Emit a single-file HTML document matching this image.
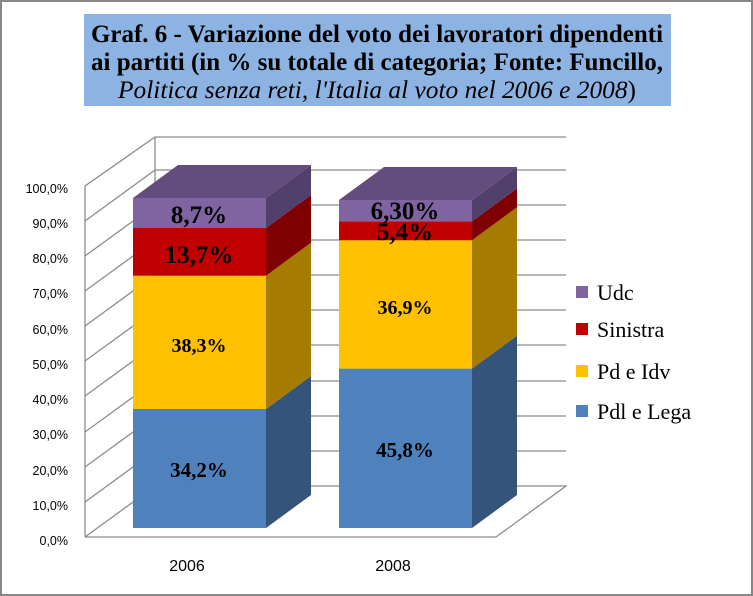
<!DOCTYPE html>
<html><head><style>body{margin:0;background:#fff}svg{display:block}</style></head><body>
<svg width="753" height="596" viewBox="0 0 753 596" xmlns="http://www.w3.org/2000/svg">
<rect x="1" y="1" width="751" height="594" fill="#fff" stroke="#878787" stroke-width="2"/>
<rect x="84" y="14" width="587" height="92" fill="#8DB3E2"/>
<g font-family="Liberation Serif, serif" font-size="25" text-anchor="middle" fill="#000">
<text x="377" y="42" font-weight="bold" textLength="572" lengthAdjust="spacingAndGlyphs">Graf. 6 - Variazione del voto dei lavoratori dipendenti</text>
<text x="377" y="70" font-weight="bold" textLength="572" lengthAdjust="spacingAndGlyphs">ai partiti (in %  su totale di categoria; Fonte: Funcillo,</text>
<text x="377" y="98" textLength="518" lengthAdjust="spacingAndGlyphs"><tspan font-style="italic">Politica senza reti, l'Italia al voto nel 2006 e 2008</tspan>)</text>
</g>
<g stroke="#8c8c8c" stroke-width="1.3" fill="none">
<path d="M85 537 L85 186 L155 137 L566 137"/>
<path d="M155 137 L155 486 L566 486 L496 537 L85 537"/>
<path d="M85 537 L155 486"/>
<path d="M85 502 L155 451 L566 451"/>
<path d="M85 467 L155 416 L566 416"/>
<path d="M85 432 L155 381 L566 381"/>
<path d="M85 396 L155 345 L566 345"/>
<path d="M85 361 L155 310 L566 310"/>
<path d="M85 326 L155 275 L566 275"/>
<path d="M85 291 L155 240 L566 240"/>
<path d="M85 256 L155 205 L566 205"/>
<path d="M85 221 L155 170 L566 170"/>
</g>
<g font-family="Liberation Sans, sans-serif" font-size="12.5" text-anchor="end" fill="#000">
<text x="68" y="545">0,0%</text><text x="68" y="510">10,0%</text><text x="68" y="475">20,0%</text>
<text x="68" y="439">30,0%</text><text x="68" y="404">40,0%</text><text x="68" y="369">50,0%</text>
<text x="68" y="334">60,0%</text><text x="68" y="298">70,0%</text><text x="68" y="263">80,0%</text>
<text x="68" y="228">90,0%</text><text x="68" y="193">100,0%</text>
</g>
<rect x="133" y="409" width="133" height="119" fill="#4F81BD"/>
<polygon points="266,409 311,376 311,495 266,528" fill="#34547A"/>
<rect x="133" y="275.7" width="133" height="133.3" fill="#FFC000"/>
<polygon points="266,275.7 311,242.7 311,376 266,409" fill="#A67C00"/>
<rect x="133" y="228" width="133" height="47.7" fill="#C00000"/>
<polygon points="266,228 311,195 311,242.7 266,275.7" fill="#7F0000"/>
<rect x="133" y="198" width="133" height="30" fill="#8064A2"/>
<polygon points="266,198 311,165 311,195 266,228" fill="#533F6B"/>
<polygon points="133,198 178,165 311,165 266,198" fill="#634C7E"/>
<rect x="339" y="368.6" width="133" height="159.4" fill="#4F81BD"/>
<polygon points="472,368.6 517,335.6 517,495 472,528" fill="#34547A"/>
<rect x="339" y="240.2" width="133" height="128.4" fill="#FFC000"/>
<polygon points="472,240.2 517,207.2 517,335.6 472,368.6" fill="#A67C00"/>
<rect x="339" y="221.4" width="133" height="18.8" fill="#C00000"/>
<polygon points="472,221.4 517,188.4 517,207.2 472,240.2" fill="#7F0000"/>
<rect x="339" y="200" width="133" height="21.4" fill="#8064A2"/>
<polygon points="472,200 517,167 517,188.4 472,221.4" fill="#533F6B"/>
<polygon points="339,200 384,167 517,167 472,200" fill="#634C7E"/>
<g font-family="Liberation Serif, serif" font-weight="bold" text-anchor="middle" fill="#000">
<text x="199" y="223" font-size="25">8,7%</text>
<text x="199" y="263" font-size="25">13,7%</text>
<text x="199" y="352" font-size="20">38,3%</text>
<text x="199" y="477" font-size="21">34,2%</text>
<text x="405" y="219" font-size="25">6,30%</text>
<text x="405" y="240" font-size="25">5,4%</text>
<text x="405" y="314" font-size="20">36,9%</text>
<text x="405" y="457" font-size="21">45,8%</text>
</g>
<g font-family="Liberation Sans, sans-serif" font-size="16" text-anchor="middle">
<text x="187" y="571">2006</text><text x="393" y="571">2008</text>
</g>
<rect x="576" y="286" width="12" height="12" fill="#8064A2"/>
<rect x="576" y="323" width="12" height="12" fill="#C00000"/>
<rect x="576" y="365" width="12" height="12" fill="#FFC000"/>
<rect x="576" y="405" width="12" height="12" fill="#4F81BD"/>
<g font-family="Liberation Serif, serif" font-size="22" fill="#000">
<text x="597" y="300">Udc</text><text x="597" y="337">Sinistra</text>
<text x="597" y="379">Pd e Idv</text><text x="597" y="419">Pdl e Lega</text>
</g>
</svg>
</body></html>
